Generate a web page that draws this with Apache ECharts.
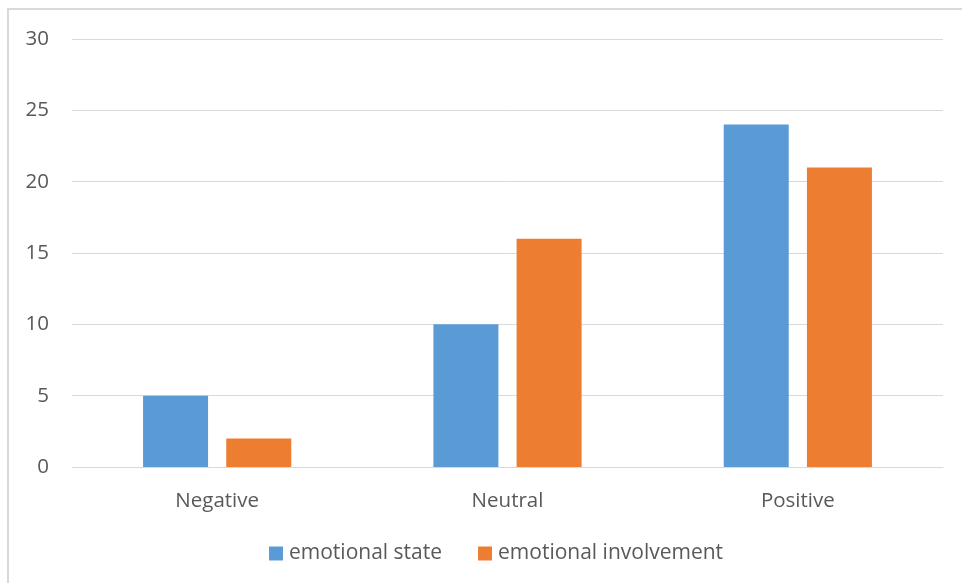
<!DOCTYPE html>
<html><head><meta charset="utf-8">
<script src="https://cdn.jsdelivr.net/npm/echarts@6/dist/echarts.min.js"></script>
<style>html,body{margin:0;padding:0;background:#fff}#c{width:962px;height:583px}</style>
</head><body><div id="c"></div>
<script>
const categories = ['Negative', 'Neutral', 'Positive'];
const emotionalState = [5, 10, 24];
const emotionalInvolvement = [2, 16, 21];
const seriesNames = ['emotional state', 'emotional involvement'];

const chart = echarts.init(document.getElementById('c'), null, {renderer: 'canvas'});
const font = '"Open Sans", sans-serif';
chart.setOption({
  animation: false,
  backgroundColor: '#fff',
  graphic: [{
    type: 'rect', silent: true, z: -1,
    shape: {x: 8, y: 9, width: 1200, height: 1000},
    style: {fill: 'none', stroke: '#d9d9d9', lineWidth: 2}
  }],
  grid: {left: 72, right: 19, top: 39, bottom: 116},
  legend: {
    data: seriesNames,
    top: 538, left: 264,
    itemWidth: 14, itemHeight: 14, itemGap: 36,
    icon: 'rect',
    textStyle: {color: '#595959', fontSize: 21, fontFamily: font, padding: [0, 0, 0, 1]}
  },
  xAxis: {
    type: 'category', data: categories,
    axisLine: {lineStyle: {color: '#d9d9d9', width: 1}},
    axisTick: {show: false},
    axisLabel: {color: '#595959', fontSize: 20.5, fontFamily: font, margin: 24}
  },
  yAxis: {
    type: 'value', min: 0, max: 30, interval: 5,
    axisLine: {show: false}, axisTick: {show: false},
    splitLine: {lineStyle: {color: '#d9d9d9', width: 1}},
    axisLabel: {color: '#595959', fontSize: 20.5, fontFamily: font, margin: 23}
  },
  series: [
    {name: seriesNames[0], type: 'bar', data: emotionalState, barWidth: 65, barGap: '28%',
     itemStyle: {color: '#5B9BD5'}},
    {name: seriesNames[1], type: 'bar', data: emotionalInvolvement, barWidth: 65, barGap: '28%',
     itemStyle: {color: '#ED7D31'}}
  ]
});
</script></body></html>
